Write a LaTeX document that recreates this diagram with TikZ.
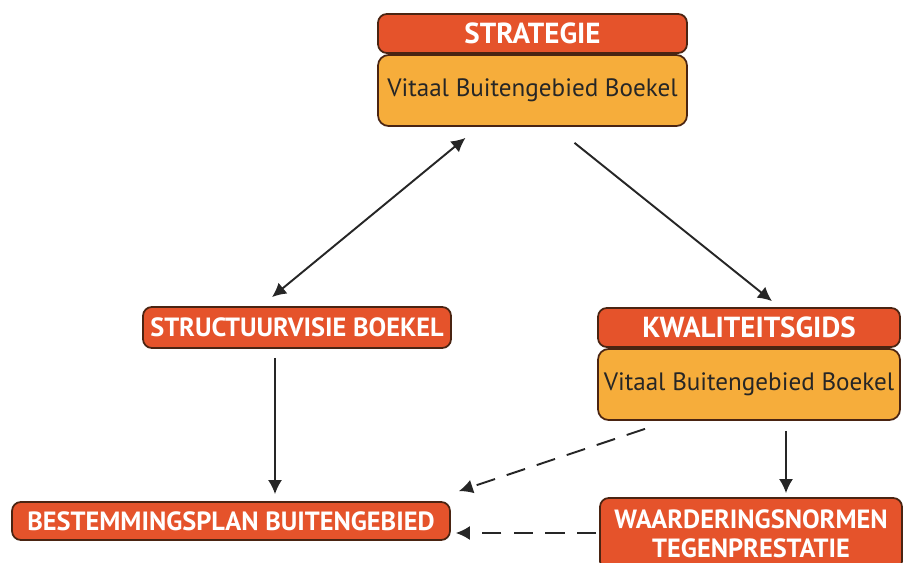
\documentclass[tikz,border=0pt]{standalone}
\usepackage{fontspec}
\setmainfont{PT Sans}
\usetikzlibrary{positioning,calc,arrows.meta}
\definecolor{kopOranje}{HTML}{E5532B}
\definecolor{vakGeel}{HTML}{F6AD3B}
\definecolor{randBruin}{HTML}{4A2412}

\begin{document}
\begin{tikzpicture}
  [x=0.02cm,y=-0.02cm,
   kop/.style={draw=randBruin,line width=1pt,fill=kopOranje,rounded corners=5pt,
     text=white,font=\bfseries\fontsize{16.5}{18}\selectfont,inner sep=0pt,align=center},
   label/.style={kop,font=\bfseries\fontsize{15}{16.5}\selectfont},
   vak/.style={draw=randBruin,line width=1pt,fill=vakGeel,rounded corners=6pt,
     text=black!85,font=\fontsize{14.3}{16}\selectfont,inner sep=0pt},
   pijl/.style={line width=1.1pt,draw=black!85,-{Latex[length=8pt,width=8pt]}},
   streep/.style={pijl,dash pattern=on 11pt off 7pt}]
  \useasboundingbox (0,0) rectangle (903,563);
  % strategie bovenaan
  \node[kop,minimum width=6.18cm,minimum height=0.78cm] (strategieKop) at (532.5,33.5) {STRATEGIE};
  \node[vak,minimum width=6.18cm,minimum height=1.42cm] (strategieVak) at (532.5,90.5) {Vitaal Buitengebied Boekel};
  % middelste laag
  \node[label,minimum width=6.16cm,minimum height=0.82cm] (structuurvisie) at (297,327.5) {STRUCTUURVISIE BOEKEL};
  \node[kop,minimum width=6.04cm,minimum height=0.78cm] (kwaliteitsKop) at (749,327.5) {KWALITEITSGIDS};
  \node[vak,minimum width=6.04cm,minimum height=1.42cm] (kwaliteitsVak) at (749,384.5) {Vitaal Buitengebied Boekel};
  % onderste laag
  \node[label,minimum width=8.76cm,minimum height=0.76cm] (bestemmingsplan) at (231,521) {BESTEMMINGSPLAN BUITENGEBIED};
  \node[label,minimum width=6.04cm,minimum height=1.44cm] (waardering) at (751,534) {WAARDERINGSNORMEN\\TEGENPRESTATIE};

  \draw[pijl,{Latex[length=8pt,width=8pt]}-{Latex[length=8pt,width=8pt]}]
    ($(strategieVak.south)+(-67,11)$) -- ($(structuurvisie.north)+(-25,-9)$);
  \draw[pijl] ($(strategieVak.south)+(42,16)$) -- ($(kwaliteitsKop.north)+(23,-6)$);
  \draw[pijl] ($(structuurvisie.south)+(-22,9)$) -- ($(bestemmingsplan.north)+(44,-7)$);
  \draw[pijl] ($(kwaliteitsVak.south)+(37,10)$) -- ($(waardering.north)+(35,-4)$);
  \draw[streep] ($(kwaliteitsVak.south)+(-104,8)$) -- ($(bestemmingsplan.north east)+(8,-10)$);
  \draw[streep] ($(waardering.west)+(-3,-1)$) -- ($(bestemmingsplan.east)+(5,12)$);
\end{tikzpicture}
\end{document}
